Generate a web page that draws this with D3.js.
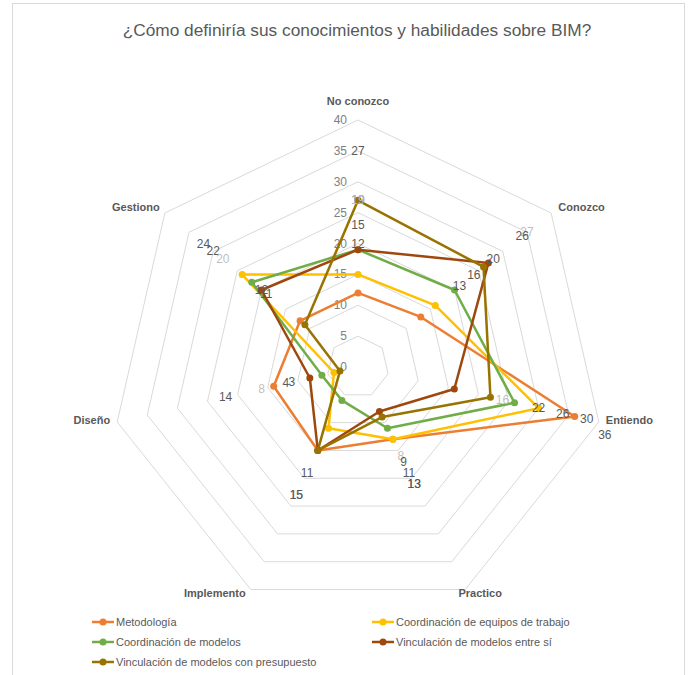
<!DOCTYPE html>
<html>
<head>
<meta charset="utf-8">
<script src="https://cdn.jsdelivr.net/npm/d3@7"></script>
<style>
  body { margin: 0; background: #fff; }
  text { font-family: "Liberation Sans", Arial, sans-serif; }
</style>
</head>
<body>
<svg id="chart" width="694" height="675"></svg>
<script>
// Chart data
var categories = ["No conozco", "Conozco", "Entiendo", "Practico", "Implemento", "Diseño", "Gestiono"];
var seriesNames = [
  "Metodología",
  "Coordinación de equipos de trabajo",
  "Coordinación de modelos",
  "Vinculación de modelos entre sí",
  "Vinculación de modelos con presupuesto"
];
var metodologia = [12, 13, 36, 13, 15, 14, 12];
var coordEquipos = [15, 16, 30, 13, 11, 4, 24];
var coordModelos = [19, 20, 26, 11, 6, 6, 22];
var vincEntreSi = [19, 27, 16, 8, 15, 8, 20];
var vincPresupuesto = [27, 26, 22, 9, 15, 3, 11];
var ticks = [0, 5, 10, 15, 20, 25, 30, 35, 40];
var colors = ["#ed7d31", "#ffc000", "#70ad47", "#9e480e", "#997300"];

var seriesValues = [metodologia, coordEquipos, coordModelos, vincEntreSi, vincPresupuesto];
// labels that the original chart does not show: [series, category]
var hiddenLabels = [[2, 4], [2, 5]];

var svg = d3.select("#chart");
var cx = 358, cy = 367;
var r = d3.scaleLinear().domain([0, 40]).range([0, 247]);
var n = categories.length;

function ang(i) { return i * 2 * Math.PI / n; }
function pt(i, v) {
  return [cx + r(v) * Math.sin(ang(i)), cy - r(v) * Math.cos(ang(i))];
}

// frame
svg.append("rect")
  .attr("x", 12.5).attr("y", 3.5)
  .attr("width", 672).attr("height", 690)
  .attr("fill", "none").attr("stroke", "#d9d9d9");

// title
svg.append("text")
  .attr("x", 357).attr("y", 36)
  .attr("text-anchor", "middle")
  .attr("font-size", 17.3)
  .attr("fill", "#595959")
  .text("¿Cómo definiría sus conocimientos y habilidades sobre BIM?");

// grid
var line = d3.line();
ticks.filter(function (t) { return t > 0; }).forEach(function (t) {
  var pts = d3.range(n).map(function (i) { return pt(i, t); });
  svg.append("path")
    .attr("d", line(pts) + "Z")
    .attr("fill", "none")
    .attr("stroke", "#d9d9d9")
    .attr("stroke-width", 1);
});

// tick labels
svg.selectAll(".tick")
  .data(ticks)
  .enter()
  .append("text")
  .attr("x", cx - 11)
  .attr("y", function (d) { return cy - r(d) + 4; })
  .attr("text-anchor", "end")
  .attr("font-size", 12)
  .attr("fill", "#7f7f7f")
  .text(function (d) { return d; });

// category labels, nudged like the original
var catNudge = [[0, -6], [0, 4], [-2, 0], [11, -1], [-32, -1], [2, 0], [2, 4]];
svg.selectAll(".cat")
  .data(categories)
  .enter()
  .append("text")
  .attr("x", function (d, i) { return pt(i, 41.5)[0] + catNudge[i][0]; })
  .attr("y", function (d, i) { return pt(i, 41.5)[1] + catNudge[i][1]; })
  .attr("text-anchor", function (d, i) {
    var s = Math.sin(ang(i));
    return s > 0.5 ? "start" : s < -0.5 ? "end" : "middle";
  })
  .attr("font-size", 11)
  .attr("font-weight", "bold")
  .attr("fill", "#595959")
  .text(function (d) { return d; });

// series lines and markers
seriesValues.forEach(function (vals, k) {
  var pts = vals.map(function (v, i) { return pt(i, v); });
  var g = svg.append("g");
  g.append("path")
    .attr("d", line(pts) + "Z")
    .attr("fill", "none")
    .attr("stroke", colors[k])
    .attr("stroke-width", 2.5)
    .attr("stroke-linejoin", "round");
  g.selectAll("circle")
    .data(pts)
    .enter()
    .append("circle")
    .attr("cx", function (d) { return d[0]; })
    .attr("cy", function (d) { return d[1]; })
    .attr("r", 3.5)
    .attr("fill", colors[k]);
});

// data labels (drawn offset outward along each axis, kept inside the plot)
function isHidden(k, i) {
  return hiddenLabels.some(function (h) { return h[0] === k && h[1] === i; });
}
seriesValues.forEach(function (vals, k) {
  var lab = vals.map(function (v, i) { return { v: v, i: i }; })
    .filter(function (d) { return !isHidden(k, d.i); });
  svg.append("g").selectAll("text")
    .data(lab)
    .enter()
    .append("text")
    .attr("x", function (d) { return pt(d.i, Math.min(d.v + 8, 41))[0]; })
    .attr("y", function (d) {
      return pt(d.i, Math.min(d.v + 8, 41))[1] + (d.v + 8 > 41 ? 16 : 4);
    })
    .attr("text-anchor", "middle")
    .attr("font-size", 12)
    .attr("fill", k === 3 ? "#bfbfbf" : "#595959")
    .text(function (d) { return d.v; });
});

// legend
var legendPos = [[92, 622], [372, 622], [92, 642], [372, 642], [92, 662]];
seriesNames.forEach(function (name, k) {
  var lg = svg.append("g")
    .attr("transform", "translate(" + legendPos[k][0] + "," + legendPos[k][1] + ")");
  lg.append("line")
    .attr("x1", 0).attr("x2", 22)
    .attr("stroke", colors[k]).attr("stroke-width", 2.5);
  lg.append("circle")
    .attr("cx", 11).attr("r", 3.5).attr("fill", colors[k]);
  lg.append("text")
    .attr("x", 24).attr("y", 4)
    .attr("font-size", 11)
    .attr("fill", "#595959")
    .text(name);
});
</script>
</body>
</html>
